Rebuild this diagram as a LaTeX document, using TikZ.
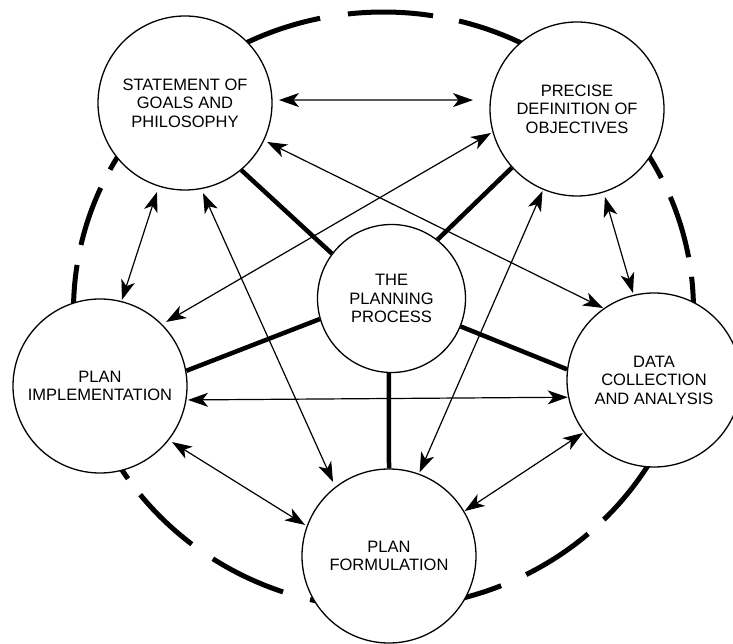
\documentclass[tikz,border=0pt]{standalone}
\usepackage{fontspec}
\setmainfont{Liberation Sans}
\usetikzlibrary{arrows.meta,calc}
\begin{document}
\begin{tikzpicture}[x=1pt,y=1pt,
  stage/.style={circle,draw,line width=1.3pt,fill=white,minimum size=174pt,
    inner sep=0pt,align=center,font=\fontsize{16.5}{18.5}\selectfont},
  hub/.style={stage,minimum size=148pt},
  spoke/.style={line width=4.5pt},
  tip/.tip={Stealth[length=20pt,width=14pt,inset=5.5pt]},
  link/.style={line width=1.2pt,tip-tip},
  ringdash/.style={line width=5pt}
]
\useasboundingbox (0,0) rectangle (733,643);

% outer dashed ring (drawn first so the stages cover it)
\coordinate (ring) at (383.5,333);
\foreach \a/\b in {10.2/22.3, 26.3/45, 49/75.9, 80.8/96.6, 101.8/125,
                   130/151.9, 155.8/167.4, 171.3/192, 196/214.5,
                   218.3/231.8, 236.6/251.1, 256.3/272, 276/292.3,
                   297.4/311.3, 315.3/335, 339/366.4}
  \draw[ringdash] (ring) ++(\a:310 and 298)
    arc[start angle=\a, end angle=\b, x radius=310, y radius=298];

% stages of the process
\node[stage] (goals)      at (185,540)   {STATEMENT OF\\GOALS AND\\PHILOSOPHY};
\node[stage] (objectives) at (577,534)   {PRECISE\\DEFINITION OF\\OBJECTIVES};
\node[hub]   (process)    at (391.5,344.5) {THE\\PLANNING\\PROCESS};
\node[stage] (impl)       at (100,257)   {PLAN\\IMPLEMENTATION};
\node[stage] (data)       at (654,263)   {DATA\\COLLECTION\\AND ANALYSIS};
\node[stage] (form)       at (389,87)    {PLAN\\FORMULATION};

% spokes from the hub
\draw[spoke] (goals.-50)        -- (process.143);
\draw[spoke] (objectives.-138.2) -- (process.52.7);
\draw[spoke] (impl.10.9)        -- (process.196.3);
\draw[spoke] (data.173.2)       -- (process.-22.3);
\draw[spoke] (form.north)       -- (process.-92);

% two-way links between stages
\draw[link] ($(goals)+(1.8:94)$)        -- ($(objectives)+(175.1:104.4)$);
\draw[link] ($(goals)+(252.5:93.3)$)    -- ($(impl)+(75.7:88.8)$);
\draw[link] ($(goals)+(-78.7:91.8)$)    -- ($(form)+(127.1:92.8)$);
\draw[link] ($(goals)+(-25.4:90.8)$)    -- ($(data)+(125.3:88.2)$);
\draw[link] ($(objectives)+(195.6:89.3)$) -- ($(impl)+(44.1:92)$);
\draw[link] ($(objectives)+(247.2:89)$) -- ($(form)+(69.9:89)$);
\draw[link] ($(objectives)+(-72.4:92.3)$) -- ($(data)+(103.6:89.5)$);
\draw[link] ($(impl)+(-9:89.1)$)        -- ($(data)+(191.3:88)$);
\draw[link] ($(impl)+(-37.9:91.2)$)     -- ($(form)+(159.7:89.5)$);
\draw[link] ($(data)+(216.7:88.6)$)     -- ($(form)+(30.7:88)$);
\end{tikzpicture}
\end{document}
